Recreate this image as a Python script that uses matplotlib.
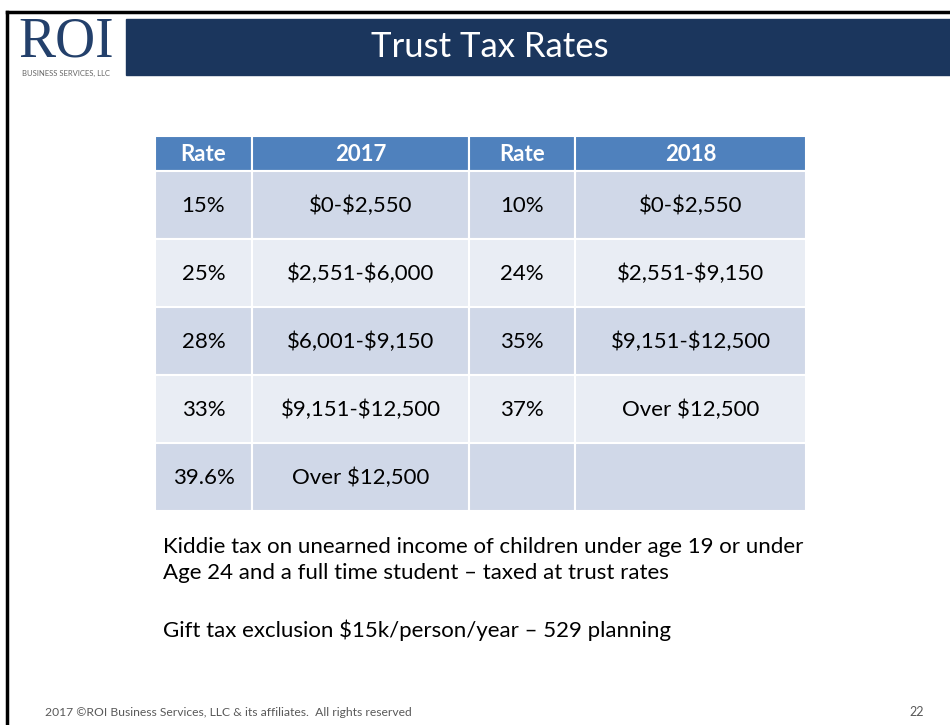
import matplotlib.pyplot as plt
from matplotlib.patches import Rectangle

plt.rcParams['font.family'] = ['Lato', 'DejaVu Sans']
plt.rcParams['text.parse_math'] = False

headers = ['Rate', '2017', 'Rate', '2018']
rates_2017 = ['15%', '25%', '28%', '33%', '39.6%']
brackets_2017 = ['$0-$2,550', '$2,551-$6,000', '$6,001-$9,150', '$9,151-$12,500', 'Over $12,500']
rates_2018 = ['10%', '24%', '35%', '37%', '']
brackets_2018 = ['$0-$2,550', '$2,551-$9,150', '$9,151-$12,500', 'Over $12,500', '']
notes = ['Kiddie tax on unearned income of children under age 19 or under\nAge 24 and a full time student \u2013 taxed at trust rates',
         'Gift tax exclusion $15k/person/year \u2013 529 planning']

navy = '#1b365d'
head_col = '#4f81bd'
row_cols = ['#d0d8e8', '#e9edf4']

fig = plt.figure(figsize=(9.5, 7.25), dpi=100)
ax = fig.add_axes([0, 0, 1, 1])
ax.set_xlim(0, 950)
ax.set_ylim(725, 0)
ax.axis('off')

# slide frame
ax.plot([7, 950], [12, 12], color='black', lw=2.5)
ax.plot([7, 7], [12, 725], color='black', lw=2.5)

# logo
ax.text(66, 42, 'ROI', family=['Liberation Serif', 'DejaVu Serif'], fontsize=40,
        color='#23406b', ha='center', va='center')
ax.text(66, 73, 'BUSINESS SERVICES, LLC', fontsize=5.5, color='#666666', ha='center', va='center')

# title bar
ax.add_patch(Rectangle((126, 19), 824, 56, color=navy))
ax.text(490, 47, 'Trust Tax Rates', fontsize=25, color='white', ha='center', va='center')

# table
col_edges = [155, 252, 469, 575, 806]
head_top, head_bot = 136, 171
row_h = 68
cols = [rates_2017, brackets_2017, rates_2018, brackets_2018]

for j, h in enumerate(headers):
    x0, x1 = col_edges[j], col_edges[j + 1]
    ax.add_patch(Rectangle((x0, head_top), x1 - x0, head_bot - head_top,
                           facecolor=head_col, edgecolor='white', lw=1.5))
    ax.text((x0 + x1) / 2, (head_top + head_bot) / 2 + 1, h, fontsize=16,
            fontweight='bold', color='white', ha='center', va='center')

for i in range(len(rates_2017)):
    y0 = head_bot + i * row_h
    for j, col in enumerate(cols):
        x0, x1 = col_edges[j], col_edges[j + 1]
        ax.add_patch(Rectangle((x0, y0), x1 - x0, row_h,
                               facecolor=row_cols[i % 2], edgecolor='white', lw=1.5))
        ax.text((x0 + x1) / 2, y0 + row_h / 2 + 1, col[i], fontsize=16,
                color='black', ha='center', va='center')

# notes
ax.text(163, 560, notes[0], fontsize=16, color='black', ha='left', va='center', linespacing=1.32)
ax.text(163, 630, notes[1], fontsize=16, color='black', ha='left', va='center')

# footer
ax.text(45, 712, '2017 \u00a9ROI Business Services, LLC & its affiliates.  All rights reserved',
        fontsize=8.7, color='#595959', ha='left', va='center')
ax.text(924, 712, '22', fontsize=9, color='#595959', ha='right', va='center')

plt.savefig('out.png', dpi=100)
